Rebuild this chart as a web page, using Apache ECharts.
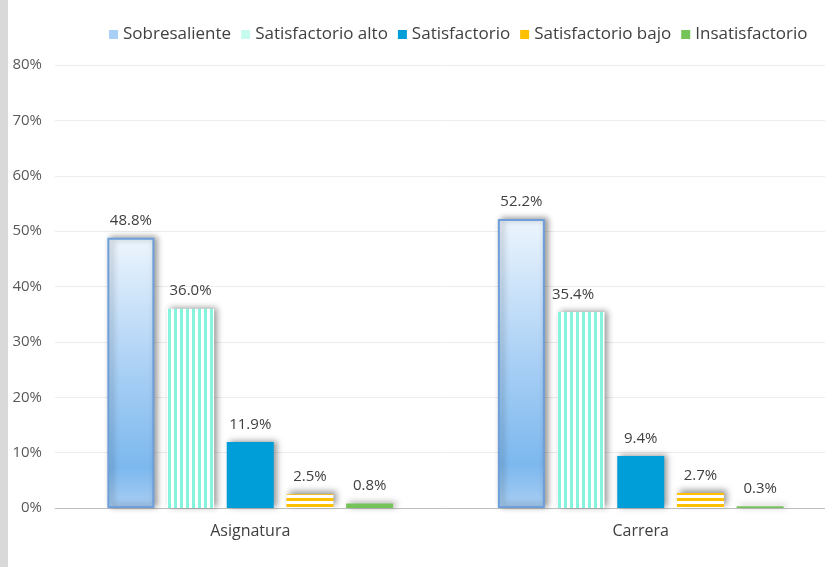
<!DOCTYPE html>
<html>
<head>
<meta charset="utf-8">
<script src="https://cdn.jsdelivr.net/npm/echarts@6/dist/echarts.min.js"></script>
<style>
  html, body { margin: 0; padding: 0; background: #fff; overflow: hidden; }
  /* el gráfico original está recortado por la derecha */
  #chart { width: 841px; height: 567px; }
</style>
</head>
<body>
<div id="chart"></div>
<script>
const categories = ['Asignatura', 'Carrera']
const seriesNames = ['Sobresaliente', 'Satisfactorio alto', 'Satisfactorio', 'Satisfactorio bajo', 'Insatisfactorio']
const sobresaliente = [48.8, 52.2]
const satisfactorioAlto = [36.0, 35.4]
const satisfactorio = [11.9, 9.4]
const satisfactorioBajo = [2.5, 2.7]
const insatisfactorio = [0.8, 0.3]
const yTicks = [0, 10, 20, 30, 40, 50, 60, 70, 80]

// patrones de relleno (rayas)
const makeStripes = (w, h, color, vertical) => {
  const c = document.createElement('canvas')
  c.width = w
  c.height = h
  const ctx = c.getContext('2d')
  ctx.fillStyle = '#ffffff'
  ctx.fillRect(0, 0, w, h)
  ctx.fillStyle = color
  if (vertical) ctx.fillRect(0, 0, 3, h)
  else ctx.fillRect(0, 0, w, 3)
  return c
}
const vStripes = makeStripes(6, 6, '#86f3dc', true)
const hStripes = makeStripes(6, 6, '#ffc000', false)

const font = '"Open Sans", Lato, sans-serif'
const shadow = { shadowBlur: 6, shadowColor: 'rgba(0,0,0,0.4)', shadowOffsetX: 3, shadowOffsetY: -1 }

const label = {
  show: true,
  position: 'top',
  distance: 10,
  color: '#404040',
  fontSize: 15,
  fontFamily: font,
  formatter: p => p.value.toFixed(1) + '%'
}

const styles = [
  {
    color: new echarts.graphic.LinearGradient(0, 0, 0, 1, [
      { offset: 0, color: '#edf5fd' },
      { offset: 0.5, color: '#a8cff5' },
      { offset: 0.85, color: '#7cb8ee' },
      { offset: 1, color: '#a9cef3' }
    ]),
    borderColor: '#6e9fda',
    borderWidth: 2,
    ...shadow
  },
  { color: { image: vStripes, repeat: 'repeat' }, ...shadow },
  { color: '#009ed8', ...shadow },
  { color: { image: hStripes, repeat: 'repeat' }, ...shadow, shadowOffsetY: -3 },
  { color: '#74c45a', ...shadow }
]
const legendColors = ['#a8cff5', '#c8fbef', '#009ed8', '#ffc000', '#74c45a']
const dataSets = [sobresaliente, satisfactorioAlto, satisfactorio, satisfactorioBajo, insatisfactorio]

const chart = echarts.init(document.getElementById('chart'))
chart.setOption({
  animation: false,
  textStyle: { fontFamily: font },
  graphic: [{
    type: 'rect', left: 0, top: 0,
    shape: { width: 8, height: 567 },
    style: { fill: '#d9d9d9' }
  }],
  legend: {
    top: 21,
    left: 104,
    itemWidth: 9,
    itemHeight: 9,
    itemGap: 10,
    icon: 'rect',
    textStyle: { fontSize: 17, color: '#404040', fontFamily: font },
    data: seriesNames.map((n, i) => ({ name: n, itemStyle: { color: legendColors[i], shadowBlur: 0, borderWidth: 0 } }))
  },
  grid: { left: 55, right: 5, top: 65, bottom: 59 },
  xAxis: {
    type: 'category',
    data: categories,
    axisTick: { show: false },
    axisLine: { lineStyle: { color: '#bfbfbf', width: 1 } },
    axisLabel: { fontSize: 16, color: '#404040', margin: 15, fontFamily: font }
  },
  yAxis: {
    type: 'value',
    min: yTicks[0],
    max: yTicks[yTicks.length - 1],
    interval: 10,
    axisLabel: { fontSize: 15, color: '#595959', margin: 13, formatter: v => v + '%', fontFamily: font },
    splitLine: { lineStyle: { color: '#ececec' } },
    axisLine: { show: false },
    axisTick: { show: false }
  },
  series: dataSets.map((d, i) => ({
    name: seriesNames[i],
    type: 'bar',
    // la etiqueta 35.4% está desplazada a la izquierda en el original
    data: d.map((v, j) => (i === 1 && j === 1 ? { value: v, label: { offset: [-8, 0] } } : v)),
    barWidth: 47,
    barGap: '27%',
    itemStyle: styles[i],
    label: label
  }))
})
</script>
</body>
</html>
